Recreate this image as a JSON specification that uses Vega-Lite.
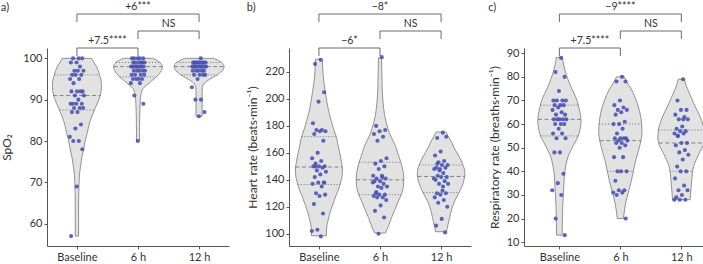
{
"$schema": "https://vega.github.io/schema/vega-lite/v6.json",
"padding": {"left": 0, "top": 2, "right": 0, "bottom": 0},
"background": "white",
"spacing": 17,
"config": {
  "view": {"stroke": null},
  "font": "Lato",
  "axis": {"labelFont": "Lato", "titleFont": "Lato", "labelFontSize": 11, "titleFontSize": 12, "labelColor": "#333", "titleColor": "#333", "titleFontWeight": "normal", "domainColor": "#555", "tickColor": "#555", "tickSize": 3, "grid": false, "labelPadding": 2, "titlePadding": 5, "labelOverlap": false},
  "title": {"anchor": "start", "frame": "bounds", "fontSize": 11, "fontWeight": "normal", "color": "#333", "offset": -11, "font": "Lato"}
},
"datasets": {
"pts": [
{"p":"a","g":"Baseline","v":100},{"p":"a","g":"Baseline","v":100},{"p":"a","g":"Baseline","v":100},{"p":"a","g":"Baseline","v":99},{"p":"a","g":"Baseline","v":99},{"p":"a","g":"Baseline","v":98},{"p":"a","g":"Baseline","v":97},{"p":"a","g":"Baseline","v":97},{"p":"a","g":"Baseline","v":97},{"p":"a","g":"Baseline","v":96},{"p":"a","g":"Baseline","v":96},{"p":"a","g":"Baseline","v":96},{"p":"a","g":"Baseline","v":95},{"p":"a","g":"Baseline","v":95},{"p":"a","g":"Baseline","v":94},{"p":"a","g":"Baseline","v":92},{"p":"a","g":"Baseline","v":92},{"p":"a","g":"Baseline","v":92},{"p":"a","g":"Baseline","v":92},{"p":"a","g":"Baseline","v":91},{"p":"a","g":"Baseline","v":91},{"p":"a","g":"Baseline","v":90},{"p":"a","g":"Baseline","v":89},{"p":"a","g":"Baseline","v":89},{"p":"a","g":"Baseline","v":89},{"p":"a","g":"Baseline","v":89},{"p":"a","g":"Baseline","v":88},{"p":"a","g":"Baseline","v":88},{"p":"a","g":"Baseline","v":88},{"p":"a","g":"Baseline","v":87},{"p":"a","g":"Baseline","v":87},{"p":"a","g":"Baseline","v":84},{"p":"a","g":"Baseline","v":83},{"p":"a","g":"Baseline","v":81},{"p":"a","g":"Baseline","v":80},{"p":"a","g":"Baseline","v":80},{"p":"a","g":"Baseline","v":78},{"p":"a","g":"Baseline","v":69},{"p":"a","g":"Baseline","v":57},
{"p":"a","g":"6 h","v":100},{"p":"a","g":"6 h","v":100},{"p":"a","g":"6 h","v":100},{"p":"a","g":"6 h","v":100},{"p":"a","g":"6 h","v":100},{"p":"a","g":"6 h","v":99},{"p":"a","g":"6 h","v":99},{"p":"a","g":"6 h","v":99},{"p":"a","g":"6 h","v":99},{"p":"a","g":"6 h","v":99},{"p":"a","g":"6 h","v":99},{"p":"a","g":"6 h","v":98},{"p":"a","g":"6 h","v":98},{"p":"a","g":"6 h","v":98},{"p":"a","g":"6 h","v":98},{"p":"a","g":"6 h","v":98},{"p":"a","g":"6 h","v":98},{"p":"a","g":"6 h","v":98},{"p":"a","g":"6 h","v":98},{"p":"a","g":"6 h","v":98},{"p":"a","g":"6 h","v":97},{"p":"a","g":"6 h","v":97},{"p":"a","g":"6 h","v":97},{"p":"a","g":"6 h","v":97},{"p":"a","g":"6 h","v":97},{"p":"a","g":"6 h","v":96},{"p":"a","g":"6 h","v":96},{"p":"a","g":"6 h","v":96},{"p":"a","g":"6 h","v":96},{"p":"a","g":"6 h","v":95},{"p":"a","g":"6 h","v":95},{"p":"a","g":"6 h","v":95},{"p":"a","g":"6 h","v":95},{"p":"a","g":"6 h","v":94},{"p":"a","g":"6 h","v":94},{"p":"a","g":"6 h","v":91},{"p":"a","g":"6 h","v":89},{"p":"a","g":"6 h","v":80},
{"p":"a","g":"12 h","v":100},{"p":"a","g":"12 h","v":99},{"p":"a","g":"12 h","v":99},{"p":"a","g":"12 h","v":99},{"p":"a","g":"12 h","v":99},{"p":"a","g":"12 h","v":99},{"p":"a","g":"12 h","v":99},{"p":"a","g":"12 h","v":99},{"p":"a","g":"12 h","v":99},{"p":"a","g":"12 h","v":99},{"p":"a","g":"12 h","v":99},{"p":"a","g":"12 h","v":99},{"p":"a","g":"12 h","v":98},{"p":"a","g":"12 h","v":98},{"p":"a","g":"12 h","v":98},{"p":"a","g":"12 h","v":98},{"p":"a","g":"12 h","v":98},{"p":"a","g":"12 h","v":98},{"p":"a","g":"12 h","v":98},{"p":"a","g":"12 h","v":98},{"p":"a","g":"12 h","v":98},{"p":"a","g":"12 h","v":98},{"p":"a","g":"12 h","v":98},{"p":"a","g":"12 h","v":97},{"p":"a","g":"12 h","v":97},{"p":"a","g":"12 h","v":97},{"p":"a","g":"12 h","v":97},{"p":"a","g":"12 h","v":97},{"p":"a","g":"12 h","v":96},{"p":"a","g":"12 h","v":96},{"p":"a","g":"12 h","v":96},{"p":"a","g":"12 h","v":96},{"p":"a","g":"12 h","v":95},{"p":"a","g":"12 h","v":93},{"p":"a","g":"12 h","v":90},{"p":"a","g":"12 h","v":90},{"p":"a","g":"12 h","v":87},{"p":"a","g":"12 h","v":86},
{"p":"b","g":"Baseline","v":229},{"p":"b","g":"Baseline","v":226},{"p":"b","g":"Baseline","v":205},{"p":"b","g":"Baseline","v":198},{"p":"b","g":"Baseline","v":182},{"p":"b","g":"Baseline","v":177},{"p":"b","g":"Baseline","v":177},{"p":"b","g":"Baseline","v":176},{"p":"b","g":"Baseline","v":176},{"p":"b","g":"Baseline","v":174},{"p":"b","g":"Baseline","v":169},{"p":"b","g":"Baseline","v":160},{"p":"b","g":"Baseline","v":156},{"p":"b","g":"Baseline","v":154},{"p":"b","g":"Baseline","v":152},{"p":"b","g":"Baseline","v":150},{"p":"b","g":"Baseline","v":150},{"p":"b","g":"Baseline","v":150},{"p":"b","g":"Baseline","v":149},{"p":"b","g":"Baseline","v":147},{"p":"b","g":"Baseline","v":146},{"p":"b","g":"Baseline","v":144},{"p":"b","g":"Baseline","v":142},{"p":"b","g":"Baseline","v":138},{"p":"b","g":"Baseline","v":138},{"p":"b","g":"Baseline","v":137},{"p":"b","g":"Baseline","v":135},{"p":"b","g":"Baseline","v":130},{"p":"b","g":"Baseline","v":129},{"p":"b","g":"Baseline","v":128},{"p":"b","g":"Baseline","v":122},{"p":"b","g":"Baseline","v":115},{"p":"b","g":"Baseline","v":103},{"p":"b","g":"Baseline","v":102},{"p":"b","g":"Baseline","v":98},{"p":"b","g":"Baseline","v":150},{"p":"b","g":"Baseline","v":138},
{"p":"b","g":"6 h","v":231},{"p":"b","g":"6 h","v":180},{"p":"b","g":"6 h","v":177},{"p":"b","g":"6 h","v":176},{"p":"b","g":"6 h","v":174},{"p":"b","g":"6 h","v":172},{"p":"b","g":"6 h","v":169},{"p":"b","g":"6 h","v":156},{"p":"b","g":"6 h","v":154},{"p":"b","g":"6 h","v":152},{"p":"b","g":"6 h","v":150},{"p":"b","g":"6 h","v":148},{"p":"b","g":"6 h","v":143},{"p":"b","g":"6 h","v":142},{"p":"b","g":"6 h","v":141},{"p":"b","g":"6 h","v":141},{"p":"b","g":"6 h","v":139},{"p":"b","g":"6 h","v":139},{"p":"b","g":"6 h","v":137},{"p":"b","g":"6 h","v":135},{"p":"b","g":"6 h","v":135},{"p":"b","g":"6 h","v":134},{"p":"b","g":"6 h","v":130},{"p":"b","g":"6 h","v":129},{"p":"b","g":"6 h","v":129},{"p":"b","g":"6 h","v":128},{"p":"b","g":"6 h","v":127},{"p":"b","g":"6 h","v":127},{"p":"b","g":"6 h","v":125},{"p":"b","g":"6 h","v":121},{"p":"b","g":"6 h","v":117},{"p":"b","g":"6 h","v":112},{"p":"b","g":"6 h","v":100},{"p":"b","g":"6 h","v":138},{"p":"b","g":"6 h","v":143},{"p":"b","g":"6 h","v":131},
{"p":"b","g":"12 h","v":175},{"p":"b","g":"12 h","v":171},{"p":"b","g":"12 h","v":172},{"p":"b","g":"12 h","v":161},{"p":"b","g":"12 h","v":158},{"p":"b","g":"12 h","v":154},{"p":"b","g":"12 h","v":153},{"p":"b","g":"12 h","v":151},{"p":"b","g":"12 h","v":151},{"p":"b","g":"12 h","v":149},{"p":"b","g":"12 h","v":149},{"p":"b","g":"12 h","v":148},{"p":"b","g":"12 h","v":148},{"p":"b","g":"12 h","v":145},{"p":"b","g":"12 h","v":143},{"p":"b","g":"12 h","v":142},{"p":"b","g":"12 h","v":142},{"p":"b","g":"12 h","v":140},{"p":"b","g":"12 h","v":139},{"p":"b","g":"12 h","v":137},{"p":"b","g":"12 h","v":137},{"p":"b","g":"12 h","v":132},{"p":"b","g":"12 h","v":130},{"p":"b","g":"12 h","v":130},{"p":"b","g":"12 h","v":129},{"p":"b","g":"12 h","v":127},{"p":"b","g":"12 h","v":125},{"p":"b","g":"12 h","v":123},{"p":"b","g":"12 h","v":120},{"p":"b","g":"12 h","v":111},{"p":"b","g":"12 h","v":106},{"p":"b","g":"12 h","v":101},{"p":"b","g":"12 h","v":147},{"p":"b","g":"12 h","v":141},{"p":"b","g":"12 h","v":135},{"p":"b","g":"12 h","v":152},
{"p":"c","g":"Baseline","v":88},{"p":"c","g":"Baseline","v":82},{"p":"c","g":"Baseline","v":80},{"p":"c","g":"Baseline","v":74},{"p":"c","g":"Baseline","v":70},{"p":"c","g":"Baseline","v":70},{"p":"c","g":"Baseline","v":70},{"p":"c","g":"Baseline","v":70},{"p":"c","g":"Baseline","v":68},{"p":"c","g":"Baseline","v":68},{"p":"c","g":"Baseline","v":68},{"p":"c","g":"Baseline","v":67},{"p":"c","g":"Baseline","v":66},{"p":"c","g":"Baseline","v":65},{"p":"c","g":"Baseline","v":64},{"p":"c","g":"Baseline","v":64},{"p":"c","g":"Baseline","v":62},{"p":"c","g":"Baseline","v":62},{"p":"c","g":"Baseline","v":62},{"p":"c","g":"Baseline","v":62},{"p":"c","g":"Baseline","v":62},{"p":"c","g":"Baseline","v":60},{"p":"c","g":"Baseline","v":60},{"p":"c","g":"Baseline","v":60},{"p":"c","g":"Baseline","v":58},{"p":"c","g":"Baseline","v":56},{"p":"c","g":"Baseline","v":56},{"p":"c","g":"Baseline","v":54},{"p":"c","g":"Baseline","v":54},{"p":"c","g":"Baseline","v":48},{"p":"c","g":"Baseline","v":48},{"p":"c","g":"Baseline","v":39},{"p":"c","g":"Baseline","v":35},{"p":"c","g":"Baseline","v":32},{"p":"c","g":"Baseline","v":30},{"p":"c","g":"Baseline","v":20},{"p":"c","g":"Baseline","v":13},
{"p":"c","g":"6 h","v":80},{"p":"c","g":"6 h","v":78},{"p":"c","g":"6 h","v":78},{"p":"c","g":"6 h","v":70},{"p":"c","g":"6 h","v":68},{"p":"c","g":"6 h","v":67},{"p":"c","g":"6 h","v":66},{"p":"c","g":"6 h","v":66},{"p":"c","g":"6 h","v":65},{"p":"c","g":"6 h","v":64},{"p":"c","g":"6 h","v":61},{"p":"c","g":"6 h","v":60},{"p":"c","g":"6 h","v":60},{"p":"c","g":"6 h","v":58},{"p":"c","g":"6 h","v":56},{"p":"c","g":"6 h","v":54},{"p":"c","g":"6 h","v":54},{"p":"c","g":"6 h","v":54},{"p":"c","g":"6 h","v":54},{"p":"c","g":"6 h","v":53},{"p":"c","g":"6 h","v":53},{"p":"c","g":"6 h","v":52},{"p":"c","g":"6 h","v":52},{"p":"c","g":"6 h","v":51},{"p":"c","g":"6 h","v":50},{"p":"c","g":"6 h","v":46},{"p":"c","g":"6 h","v":46},{"p":"c","g":"6 h","v":40},{"p":"c","g":"6 h","v":40},{"p":"c","g":"6 h","v":40},{"p":"c","g":"6 h","v":36},{"p":"c","g":"6 h","v":32},{"p":"c","g":"6 h","v":32},{"p":"c","g":"6 h","v":31},{"p":"c","g":"6 h","v":31},{"p":"c","g":"6 h","v":30},{"p":"c","g":"6 h","v":20},
{"p":"c","g":"12 h","v":79},{"p":"c","g":"12 h","v":70},{"p":"c","g":"12 h","v":66},{"p":"c","g":"12 h","v":66},{"p":"c","g":"12 h","v":64},{"p":"c","g":"12 h","v":63},{"p":"c","g":"12 h","v":62},{"p":"c","g":"12 h","v":62},{"p":"c","g":"12 h","v":59},{"p":"c","g":"12 h","v":58},{"p":"c","g":"12 h","v":57},{"p":"c","g":"12 h","v":57},{"p":"c","g":"12 h","v":56},{"p":"c","g":"12 h","v":56},{"p":"c","g":"12 h","v":55},{"p":"c","g":"12 h","v":52},{"p":"c","g":"12 h","v":52},{"p":"c","g":"12 h","v":51},{"p":"c","g":"12 h","v":49},{"p":"c","g":"12 h","v":48},{"p":"c","g":"12 h","v":47},{"p":"c","g":"12 h","v":45},{"p":"c","g":"12 h","v":42},{"p":"c","g":"12 h","v":40},{"p":"c","g":"12 h","v":40},{"p":"c","g":"12 h","v":37},{"p":"c","g":"12 h","v":34},{"p":"c","g":"12 h","v":32},{"p":"c","g":"12 h","v":32},{"p":"c","g":"12 h","v":30},{"p":"c","g":"12 h","v":29},{"p":"c","g":"12 h","v":28},{"p":"c","g":"12 h","v":28},{"p":"c","g":"12 h","v":28},{"p":"c","g":"12 h","v":62},{"p":"c","g":"12 h","v":55}
],
"vio": [
{"p":"a","g":"Baseline","v":57,"w":0.027},{"p":"a","g":"Baseline","v":60,"w":0.027},{"p":"a","g":"Baseline","v":65,"w":0.028},{"p":"a","g":"Baseline","v":70,"w":0.035},{"p":"a","g":"Baseline","v":72,"w":0.042},{"p":"a","g":"Baseline","v":74,"w":0.06},{"p":"a","g":"Baseline","v":76,"w":0.08},{"p":"a","g":"Baseline","v":78,"w":0.11},{"p":"a","g":"Baseline","v":80,"w":0.135},{"p":"a","g":"Baseline","v":82,"w":0.17},{"p":"a","g":"Baseline","v":84,"w":0.2},{"p":"a","g":"Baseline","v":86,"w":0.245},{"p":"a","g":"Baseline","v":88,"w":0.3},{"p":"a","g":"Baseline","v":90,"w":0.36},{"p":"a","g":"Baseline","v":92,"w":0.395},{"p":"a","g":"Baseline","v":93,"w":0.4},{"p":"a","g":"Baseline","v":94,"w":0.4},{"p":"a","g":"Baseline","v":95,"w":0.39},{"p":"a","g":"Baseline","v":96,"w":0.37},{"p":"a","g":"Baseline","v":97,"w":0.35},{"p":"a","g":"Baseline","v":98,"w":0.32},{"p":"a","g":"Baseline","v":99,"w":0.28},{"p":"a","g":"Baseline","v":100,"w":0.24},
{"p":"a","g":"6 h","v":80,"w":0.025},{"p":"a","g":"6 h","v":82,"w":0.025},{"p":"a","g":"6 h","v":84,"w":0.026},{"p":"a","g":"6 h","v":86,"w":0.028},{"p":"a","g":"6 h","v":88,"w":0.032},{"p":"a","g":"6 h","v":90,"w":0.038},{"p":"a","g":"6 h","v":91,"w":0.045},{"p":"a","g":"6 h","v":92,"w":0.06},{"p":"a","g":"6 h","v":92.5,"w":0.075},{"p":"a","g":"6 h","v":93,"w":0.1},{"p":"a","g":"6 h","v":93.5,"w":0.14},{"p":"a","g":"6 h","v":94,"w":0.18},{"p":"a","g":"6 h","v":94.5,"w":0.22},{"p":"a","g":"6 h","v":95,"w":0.26},{"p":"a","g":"6 h","v":95.5,"w":0.3},{"p":"a","g":"6 h","v":96,"w":0.33},{"p":"a","g":"6 h","v":96.5,"w":0.36},{"p":"a","g":"6 h","v":97,"w":0.38},{"p":"a","g":"6 h","v":97.5,"w":0.395},{"p":"a","g":"6 h","v":98,"w":0.4},{"p":"a","g":"6 h","v":98.5,"w":0.39},{"p":"a","g":"6 h","v":99,"w":0.36},{"p":"a","g":"6 h","v":99.5,"w":0.31},{"p":"a","g":"6 h","v":100,"w":0.24},
{"p":"a","g":"12 h","v":86,"w":0.05},{"p":"a","g":"12 h","v":88,"w":0.05},{"p":"a","g":"12 h","v":90,"w":0.05},{"p":"a","g":"12 h","v":92,"w":0.05},{"p":"a","g":"12 h","v":93,"w":0.055},{"p":"a","g":"12 h","v":93.5,"w":0.065},{"p":"a","g":"12 h","v":94,"w":0.09},{"p":"a","g":"12 h","v":94.5,"w":0.13},{"p":"a","g":"12 h","v":95,"w":0.18},{"p":"a","g":"12 h","v":95.5,"w":0.24},{"p":"a","g":"12 h","v":96,"w":0.3},{"p":"a","g":"12 h","v":96.5,"w":0.34},{"p":"a","g":"12 h","v":97,"w":0.38},{"p":"a","g":"12 h","v":97.5,"w":0.4},{"p":"a","g":"12 h","v":98,"w":0.41},{"p":"a","g":"12 h","v":98.5,"w":0.4},{"p":"a","g":"12 h","v":99,"w":0.37},{"p":"a","g":"12 h","v":99.5,"w":0.31},{"p":"a","g":"12 h","v":100,"w":0.24},
{"p":"b","g":"Baseline","v":98.5,"w":0.12},{"p":"b","g":"Baseline","v":104,"w":0.125},{"p":"b","g":"Baseline","v":109,"w":0.145},{"p":"b","g":"Baseline","v":114,"w":0.17},{"p":"b","g":"Baseline","v":119,"w":0.205},{"p":"b","g":"Baseline","v":124,"w":0.245},{"p":"b","g":"Baseline","v":129,"w":0.285},{"p":"b","g":"Baseline","v":134,"w":0.33},{"p":"b","g":"Baseline","v":139,"w":0.36},{"p":"b","g":"Baseline","v":143,"w":0.38},{"p":"b","g":"Baseline","v":148,"w":0.385},{"p":"b","g":"Baseline","v":153,"w":0.37},{"p":"b","g":"Baseline","v":159,"w":0.345},{"p":"b","g":"Baseline","v":165,"w":0.315},{"p":"b","g":"Baseline","v":171,"w":0.29},{"p":"b","g":"Baseline","v":177,"w":0.245},{"p":"b","g":"Baseline","v":184,"w":0.2},{"p":"b","g":"Baseline","v":190,"w":0.165},{"p":"b","g":"Baseline","v":198,"w":0.13},{"p":"b","g":"Baseline","v":205,"w":0.105},{"p":"b","g":"Baseline","v":213,"w":0.08},{"p":"b","g":"Baseline","v":220,"w":0.065},{"p":"b","g":"Baseline","v":229.5,"w":0.055},
{"p":"b","g":"6 h","v":100.5,"w":0.09},{"p":"b","g":"6 h","v":106,"w":0.14},{"p":"b","g":"6 h","v":112,"w":0.19},{"p":"b","g":"6 h","v":118,"w":0.245},{"p":"b","g":"6 h","v":124,"w":0.3},{"p":"b","g":"6 h","v":130,"w":0.355},{"p":"b","g":"6 h","v":136,"w":0.385},{"p":"b","g":"6 h","v":142,"w":0.39},{"p":"b","g":"6 h","v":148,"w":0.37},{"p":"b","g":"6 h","v":154,"w":0.335},{"p":"b","g":"6 h","v":160,"w":0.29},{"p":"b","g":"6 h","v":166,"w":0.245},{"p":"b","g":"6 h","v":172,"w":0.18},{"p":"b","g":"6 h","v":178,"w":0.13},{"p":"b","g":"6 h","v":183,"w":0.1},{"p":"b","g":"6 h","v":188,"w":0.075},{"p":"b","g":"6 h","v":193,"w":0.06},{"p":"b","g":"6 h","v":200,"w":0.045},{"p":"b","g":"6 h","v":210,"w":0.035},{"p":"b","g":"6 h","v":220,"w":0.03},{"p":"b","g":"6 h","v":230.5,"w":0.025},
{"p":"b","g":"12 h","v":101.5,"w":0.09},{"p":"b","g":"12 h","v":104,"w":0.1},{"p":"b","g":"12 h","v":108,"w":0.12},{"p":"b","g":"12 h","v":112,"w":0.14},{"p":"b","g":"12 h","v":116,"w":0.16},{"p":"b","g":"12 h","v":120,"w":0.185},{"p":"b","g":"12 h","v":124,"w":0.22},{"p":"b","g":"12 h","v":128,"w":0.265},{"p":"b","g":"12 h","v":132,"w":0.31},{"p":"b","g":"12 h","v":136,"w":0.35},{"p":"b","g":"12 h","v":140,"w":0.375},{"p":"b","g":"12 h","v":144,"w":0.39},{"p":"b","g":"12 h","v":148,"w":0.38},{"p":"b","g":"12 h","v":152,"w":0.35},{"p":"b","g":"12 h","v":156,"w":0.31},{"p":"b","g":"12 h","v":160,"w":0.26},{"p":"b","g":"12 h","v":164,"w":0.21},{"p":"b","g":"12 h","v":168,"w":0.17},{"p":"b","g":"12 h","v":172,"w":0.12},{"p":"b","g":"12 h","v":175.5,"w":0.08},
{"p":"c","g":"Baseline","v":13,"w":0.045},{"p":"c","g":"Baseline","v":20,"w":0.05},{"p":"c","g":"Baseline","v":25,"w":0.055},{"p":"c","g":"Baseline","v":30,"w":0.065},{"p":"c","g":"Baseline","v":35,"w":0.075},{"p":"c","g":"Baseline","v":40,"w":0.09},{"p":"c","g":"Baseline","v":43,"w":0.11},{"p":"c","g":"Baseline","v":46,"w":0.14},{"p":"c","g":"Baseline","v":49,"w":0.19},{"p":"c","g":"Baseline","v":52,"w":0.25},{"p":"c","g":"Baseline","v":55,"w":0.31},{"p":"c","g":"Baseline","v":58,"w":0.34},{"p":"c","g":"Baseline","v":61,"w":0.355},{"p":"c","g":"Baseline","v":64,"w":0.345},{"p":"c","g":"Baseline","v":67,"w":0.32},{"p":"c","g":"Baseline","v":70,"w":0.29},{"p":"c","g":"Baseline","v":73,"w":0.24},{"p":"c","g":"Baseline","v":76,"w":0.185},{"p":"c","g":"Baseline","v":79,"w":0.14},{"p":"c","g":"Baseline","v":82,"w":0.1},{"p":"c","g":"Baseline","v":85,"w":0.07},{"p":"c","g":"Baseline","v":88.2,"w":0.05},
{"p":"c","g":"6 h","v":20,"w":0.05},{"p":"c","g":"6 h","v":24,"w":0.07},{"p":"c","g":"6 h","v":27,"w":0.09},{"p":"c","g":"6 h","v":30,"w":0.12},{"p":"c","g":"6 h","v":33,"w":0.15},{"p":"c","g":"6 h","v":36,"w":0.18},{"p":"c","g":"6 h","v":39,"w":0.205},{"p":"c","g":"6 h","v":42,"w":0.23},{"p":"c","g":"6 h","v":45,"w":0.255},{"p":"c","g":"6 h","v":48,"w":0.29},{"p":"c","g":"6 h","v":51,"w":0.32},{"p":"c","g":"6 h","v":54,"w":0.345},{"p":"c","g":"6 h","v":57,"w":0.355},{"p":"c","g":"6 h","v":60,"w":0.35},{"p":"c","g":"6 h","v":63,"w":0.335},{"p":"c","g":"6 h","v":66,"w":0.31},{"p":"c","g":"6 h","v":69,"w":0.275},{"p":"c","g":"6 h","v":72,"w":0.23},{"p":"c","g":"6 h","v":75,"w":0.175},{"p":"c","g":"6 h","v":78,"w":0.1},{"p":"c","g":"6 h","v":80,"w":0.065},
{"p":"c","g":"12 h","v":28,"w":0.145},{"p":"c","g":"12 h","v":30,"w":0.15},{"p":"c","g":"12 h","v":33,"w":0.16},{"p":"c","g":"12 h","v":36,"w":0.17},{"p":"c","g":"12 h","v":39,"w":0.18},{"p":"c","g":"12 h","v":42,"w":0.2},{"p":"c","g":"12 h","v":45,"w":0.245},{"p":"c","g":"12 h","v":48,"w":0.3},{"p":"c","g":"12 h","v":51,"w":0.36},{"p":"c","g":"12 h","v":54,"w":0.385},{"p":"c","g":"12 h","v":57,"w":0.38},{"p":"c","g":"12 h","v":60,"w":0.35},{"p":"c","g":"12 h","v":63,"w":0.31},{"p":"c","g":"12 h","v":66,"w":0.255},{"p":"c","g":"12 h","v":69,"w":0.2},{"p":"c","g":"12 h","v":72,"w":0.15},{"p":"c","g":"12 h","v":75,"w":0.1},{"p":"c","g":"12 h","v":77,"w":0.07},{"p":"c","g":"12 h","v":79,"w":0.05}
],
"qrt": [
{"p":"a","g":"Baseline","v":96,"w":0.37,"k":"q"},{"p":"a","g":"Baseline","v":91,"w":0.39,"k":"m"},{"p":"a","g":"Baseline","v":87.5,"w":0.29,"k":"q"},
{"p":"a","g":"6 h","v":99,"w":0.36,"k":"q"},{"p":"a","g":"6 h","v":98,"w":0.4,"k":"m"},{"p":"a","g":"6 h","v":95.5,"w":0.3,"k":"q"},
{"p":"a","g":"12 h","v":99,"w":0.37,"k":"q"},{"p":"a","g":"12 h","v":98,"w":0.41,"k":"m"},{"p":"a","g":"12 h","v":96,"w":0.3,"k":"q"},
{"p":"b","g":"Baseline","v":172,"w":0.285,"k":"q"},{"p":"b","g":"Baseline","v":149.5,"w":0.385,"k":"m"},{"p":"b","g":"Baseline","v":136.5,"w":0.35,"k":"q"},
{"p":"b","g":"6 h","v":153,"w":0.34,"k":"q"},{"p":"b","g":"6 h","v":140,"w":0.39,"k":"m"},{"p":"b","g":"6 h","v":129,"w":0.35,"k":"q"},
{"p":"b","g":"12 h","v":151,"w":0.355,"k":"q"},{"p":"b","g":"12 h","v":142.5,"w":0.385,"k":"m"},{"p":"b","g":"12 h","v":130.5,"w":0.29,"k":"q"},
{"p":"c","g":"Baseline","v":68,"w":0.31,"k":"q"},{"p":"c","g":"Baseline","v":62,"w":0.35,"k":"m"},{"p":"c","g":"Baseline","v":55,"w":0.31,"k":"q"},
{"p":"c","g":"6 h","v":60,"w":0.35,"k":"q"},{"p":"c","g":"6 h","v":53,"w":0.34,"k":"m"},{"p":"c","g":"6 h","v":40,"w":0.215,"k":"q"},
{"p":"c","g":"12 h","v":57.5,"w":0.375,"k":"q"},{"p":"c","g":"12 h","v":52,"w":0.37,"k":"m"},{"p":"c","g":"12 h","v":40,"w":0.19,"k":"q"}
],
"br": [
{"p":"a","g1":"Baseline","g2":"6 h","lv":1,"t":"+7.5****"},{"p":"a","g1":"6 h","g2":"12 h","lv":2,"t":"NS"},{"p":"a","g1":"Baseline","g2":"12 h","lv":3,"t":"+6***"},
{"p":"b","g1":"Baseline","g2":"6 h","lv":1,"t":"−6*"},{"p":"b","g1":"6 h","g2":"12 h","lv":2,"t":"NS"},{"p":"b","g1":"Baseline","g2":"12 h","lv":3,"t":"−8*"},
{"p":"c","g1":"Baseline","g2":"6 h","lv":1,"t":"+7.5****"},{"p":"c","g1":"6 h","g2":"12 h","lv":2,"t":"NS"},{"p":"c","g1":"Baseline","g2":"12 h","lv":3,"t":"−9****"}
]
},
"hconcat": [
{
 "title": {"text": "a)"},
 "width": 182, "height": 198,
 "resolve": {"scale": {"y": "independent"}},
 "layer": [
  {"layer": [
   {"data": {"name": "vio"},
    "transform": [{"filter": "datum.p=='a'"}, {"calculate": "indexof(['Baseline','6 h','12 h'], datum.g)", "as": "pos"}, {"calculate": "datum.pos - datum.w", "as": "xl"}, {"calculate": "datum.pos + datum.w", "as": "xr"}],
    "mark": {"type": "area", "orient": "horizontal", "interpolate": "monotone", "fill": "#e2e2e2", "stroke": "#7a7a7a", "strokeWidth": 0.8},
    "encoding": {
     "y": {"field": "v", "type": "quantitative", "scale": {"domain": [54.6, 102.5], "nice": false, "zero": false}, "axis": {"values": [60,70,80,90,100], "tickCount": 20, "title": "SpO₂", "titlePadding": 9, "labelOverlap": false}},
     "x": {"field": "xl", "type": "quantitative", "scale": {"domain": [-0.49, 2.49], "nice": false, "zero": false}, "axis": {"values": [0,1,2], "tickCount": 10, "labelExpr": "['Baseline','6 h','12 h'][datum.value]", "title": null, "labelFlush": false, "labelOverlap": false}},
     "x2": {"field": "xr"},
     "detail": {"field": "g"}
    }},
   {"data": {"name": "qrt"},
    "transform": [{"filter": "datum.p=='a'"}, {"calculate": "indexof(['Baseline','6 h','12 h'], datum.g)", "as": "pos"}, {"calculate": "datum.pos - datum.w", "as": "xl"}, {"calculate": "datum.pos + datum.w", "as": "xr"}],
    "mark": {"type": "rule", "color": "#6a6a6a", "strokeWidth": 0.8},
    "encoding": {
     "y": {"field": "v", "type": "quantitative"},
     "x": {"field": "xl", "type": "quantitative"},
     "x2": {"field": "xr"},
     "strokeDash": {"field": "k", "type": "nominal", "scale": {"domain": ["m","q"], "range": [[4,2.5],[1.2,1.8]]}, "legend": null}
    }},
   {"data": {"name": "pts"},
    "transform": [{"filter": "datum.p=='a'"}, {"calculate": "indexof(['Baseline','6 h','12 h'], datum.g)", "as": "pos"}, {"window": [{"op": "row_number", "as": "i"}], "groupby": ["g"]}, {"calculate": "datum.pos + ((datum.i * 0.6180339887) % 1 - 0.5) * 0.24", "as": "jx"}],
    "mark": {"type": "circle", "color": "#4a54b6", "opacity": 0.9, "size": 17},
    "encoding": {
     "y": {"field": "v", "type": "quantitative"},
     "x": {"field": "jx", "type": "quantitative"}
    }}
  ]},
  {"data": {"name": "br"},
   "transform": [{"filter": "datum.p=='a'"}, {"calculate": "indexof(['Baseline','6 h','12 h'], datum.g1)", "as": "a"}, {"calculate": "indexof(['Baseline','6 h','12 h'], datum.g2)", "as": "b"}, {"calculate": "(datum.a + datum.b) / 2", "as": "m"}, {"calculate": "datum.lv - 0.47", "as": "lo"}],
   "layer": [
    {"mark": {"type": "rule", "color": "#5a5a5a", "strokeWidth": 0.9}, "encoding": {"x": {"field": "a", "type": "quantitative"}, "x2": {"field": "b"}, "y": {"field": "lv", "type": "quantitative", "scale": {"domain": [-10.65, 1], "nice": false, "zero": false}, "axis": null}}},
    {"mark": {"type": "rule", "color": "#5a5a5a", "strokeWidth": 0.9}, "encoding": {"x": {"field": "a", "type": "quantitative"}, "y": {"field": "lv", "type": "quantitative"}, "y2": {"field": "lo"}}},
    {"mark": {"type": "rule", "color": "#5a5a5a", "strokeWidth": 0.9}, "encoding": {"x": {"field": "b", "type": "quantitative"}, "y": {"field": "lv", "type": "quantitative"}, "y2": {"field": "lo"}}},
    {"mark": {"type": "text", "baseline": "alphabetic", "dy": -4, "fontSize": 10.5, "color": "#333", "font": "Lato"}, "encoding": {"x": {"field": "m", "type": "quantitative"}, "y": {"field": "lv", "type": "quantitative"}, "text": {"field": "t"}}}
   ]}
 ]
},
{
 "title": {"text": "b)"},
 "width": 182, "height": 198,
 "resolve": {"scale": {"y": "independent"}},
 "layer": [
  {"layer": [
   {"data": {"name": "vio"},
    "transform": [{"filter": "datum.p=='b'"}, {"calculate": "indexof(['Baseline','6 h','12 h'], datum.g)", "as": "pos"}, {"calculate": "datum.pos - datum.w", "as": "xl"}, {"calculate": "datum.pos + datum.w", "as": "xr"}],
    "mark": {"type": "area", "orient": "horizontal", "interpolate": "monotone", "fill": "#e2e2e2", "stroke": "#7a7a7a", "strokeWidth": 0.8},
    "encoding": {
     "y": {"field": "v", "type": "quantitative", "scale": {"domain": [90.9, 237.8], "nice": false, "zero": false}, "axis": {"values": [100,120,140,160,180,200,220], "tickCount": 20, "title": "Heart rate (beats·min⁻¹)", "labelOverlap": false}},
     "x": {"field": "xl", "type": "quantitative", "scale": {"domain": [-0.49, 2.49], "nice": false, "zero": false}, "axis": {"values": [0,1,2], "tickCount": 10, "labelExpr": "['Baseline','6 h','12 h'][datum.value]", "title": null, "labelFlush": false, "labelOverlap": false}},
     "x2": {"field": "xr"},
     "detail": {"field": "g"}
    }},
   {"data": {"name": "qrt"},
    "transform": [{"filter": "datum.p=='b'"}, {"calculate": "indexof(['Baseline','6 h','12 h'], datum.g)", "as": "pos"}, {"calculate": "datum.pos - datum.w", "as": "xl"}, {"calculate": "datum.pos + datum.w", "as": "xr"}],
    "mark": {"type": "rule", "color": "#6a6a6a", "strokeWidth": 0.8},
    "encoding": {
     "y": {"field": "v", "type": "quantitative"},
     "x": {"field": "xl", "type": "quantitative"},
     "x2": {"field": "xr"},
     "strokeDash": {"field": "k", "type": "nominal", "scale": {"domain": ["m","q"], "range": [[4,2.5],[1.2,1.8]]}, "legend": null}
    }},
   {"data": {"name": "pts"},
    "transform": [{"filter": "datum.p=='b'"}, {"calculate": "indexof(['Baseline','6 h','12 h'], datum.g)", "as": "pos"}, {"window": [{"op": "row_number", "as": "i"}], "groupby": ["g"]}, {"calculate": "datum.pos + ((datum.i * 0.6180339887) % 1 - 0.5) * 0.24", "as": "jx"}],
    "mark": {"type": "circle", "color": "#4a54b6", "opacity": 0.9, "size": 17},
    "encoding": {
     "y": {"field": "v", "type": "quantitative"},
     "x": {"field": "jx", "type": "quantitative"}
    }}
  ]},
  {"data": {"name": "br"},
   "transform": [{"filter": "datum.p=='b'"}, {"calculate": "indexof(['Baseline','6 h','12 h'], datum.g1)", "as": "a"}, {"calculate": "indexof(['Baseline','6 h','12 h'], datum.g2)", "as": "b"}, {"calculate": "(datum.a + datum.b) / 2", "as": "m"}, {"calculate": "datum.lv - 0.47", "as": "lo"}],
   "layer": [
    {"mark": {"type": "rule", "color": "#5a5a5a", "strokeWidth": 0.9}, "encoding": {"x": {"field": "a", "type": "quantitative"}, "x2": {"field": "b"}, "y": {"field": "lv", "type": "quantitative", "scale": {"domain": [-10.65, 1], "nice": false, "zero": false}, "axis": null}}},
    {"mark": {"type": "rule", "color": "#5a5a5a", "strokeWidth": 0.9}, "encoding": {"x": {"field": "a", "type": "quantitative"}, "y": {"field": "lv", "type": "quantitative"}, "y2": {"field": "lo"}}},
    {"mark": {"type": "rule", "color": "#5a5a5a", "strokeWidth": 0.9}, "encoding": {"x": {"field": "b", "type": "quantitative"}, "y": {"field": "lv", "type": "quantitative"}, "y2": {"field": "lo"}}},
    {"mark": {"type": "text", "baseline": "alphabetic", "dy": -4, "fontSize": 10.5, "color": "#333", "font": "Lato"}, "encoding": {"x": {"field": "m", "type": "quantitative"}, "y": {"field": "lv", "type": "quantitative"}, "text": {"field": "t"}}}
   ]}
 ]
},
{
 "title": {"text": "c)"},
 "width": 186, "height": 198,
 "resolve": {"scale": {"y": "independent"}},
 "layer": [
  {"layer": [
   {"data": {"name": "vio"},
    "transform": [{"filter": "datum.p=='c'"}, {"calculate": "indexof(['Baseline','6 h','12 h'], datum.g)", "as": "pos"}, {"calculate": "datum.pos - datum.w", "as": "xl"}, {"calculate": "datum.pos + datum.w", "as": "xr"}],
    "mark": {"type": "area", "orient": "horizontal", "interpolate": "monotone", "fill": "#e2e2e2", "stroke": "#7a7a7a", "strokeWidth": 0.8},
    "encoding": {
     "y": {"field": "v", "type": "quantitative", "scale": {"domain": [8.4, 92.2], "nice": false, "zero": false}, "axis": {"values": [10,20,30,40,50,60,70,80,90], "tickCount": 20, "title": "Respiratory rate (breaths·min⁻¹)", "labelOverlap": false}},
     "x": {"field": "xl", "type": "quantitative", "scale": {"domain": [-0.58, 2.47], "nice": false, "zero": false}, "axis": {"values": [0,1,2], "tickCount": 10, "labelExpr": "['Baseline','6 h','12 h'][datum.value]", "title": null, "labelFlush": false, "labelOverlap": false}},
     "x2": {"field": "xr"},
     "detail": {"field": "g"}
    }},
   {"data": {"name": "qrt"},
    "transform": [{"filter": "datum.p=='c'"}, {"calculate": "indexof(['Baseline','6 h','12 h'], datum.g)", "as": "pos"}, {"calculate": "datum.pos - datum.w", "as": "xl"}, {"calculate": "datum.pos + datum.w", "as": "xr"}],
    "mark": {"type": "rule", "color": "#6a6a6a", "strokeWidth": 0.8},
    "encoding": {
     "y": {"field": "v", "type": "quantitative"},
     "x": {"field": "xl", "type": "quantitative"},
     "x2": {"field": "xr"},
     "strokeDash": {"field": "k", "type": "nominal", "scale": {"domain": ["m","q"], "range": [[4,2.5],[1.2,1.8]]}, "legend": null}
    }},
   {"data": {"name": "pts"},
    "transform": [{"filter": "datum.p=='c'"}, {"calculate": "indexof(['Baseline','6 h','12 h'], datum.g)", "as": "pos"}, {"window": [{"op": "row_number", "as": "i"}], "groupby": ["g"]}, {"calculate": "datum.pos + ((datum.i * 0.6180339887) % 1 - 0.5) * 0.24", "as": "jx"}],
    "mark": {"type": "circle", "color": "#4a54b6", "opacity": 0.9, "size": 17},
    "encoding": {
     "y": {"field": "v", "type": "quantitative"},
     "x": {"field": "jx", "type": "quantitative"}
    }}
  ]},
  {"data": {"name": "br"},
   "transform": [{"filter": "datum.p=='c'"}, {"calculate": "indexof(['Baseline','6 h','12 h'], datum.g1)", "as": "a"}, {"calculate": "indexof(['Baseline','6 h','12 h'], datum.g2)", "as": "b"}, {"calculate": "(datum.a + datum.b) / 2", "as": "m"}, {"calculate": "datum.lv - 0.47", "as": "lo"}],
   "layer": [
    {"mark": {"type": "rule", "color": "#5a5a5a", "strokeWidth": 0.9}, "encoding": {"x": {"field": "a", "type": "quantitative"}, "x2": {"field": "b"}, "y": {"field": "lv", "type": "quantitative", "scale": {"domain": [-10.65, 1], "nice": false, "zero": false}, "axis": null}}},
    {"mark": {"type": "rule", "color": "#5a5a5a", "strokeWidth": 0.9}, "encoding": {"x": {"field": "a", "type": "quantitative"}, "y": {"field": "lv", "type": "quantitative"}, "y2": {"field": "lo"}}},
    {"mark": {"type": "rule", "color": "#5a5a5a", "strokeWidth": 0.9}, "encoding": {"x": {"field": "b", "type": "quantitative"}, "y": {"field": "lv", "type": "quantitative"}, "y2": {"field": "lo"}}},
    {"mark": {"type": "text", "baseline": "alphabetic", "dy": -4, "fontSize": 10.5, "color": "#333", "font": "Lato"}, "encoding": {"x": {"field": "m", "type": "quantitative"}, "y": {"field": "lv", "type": "quantitative"}, "text": {"field": "t"}}}
   ]}
 ]
}
]
}
